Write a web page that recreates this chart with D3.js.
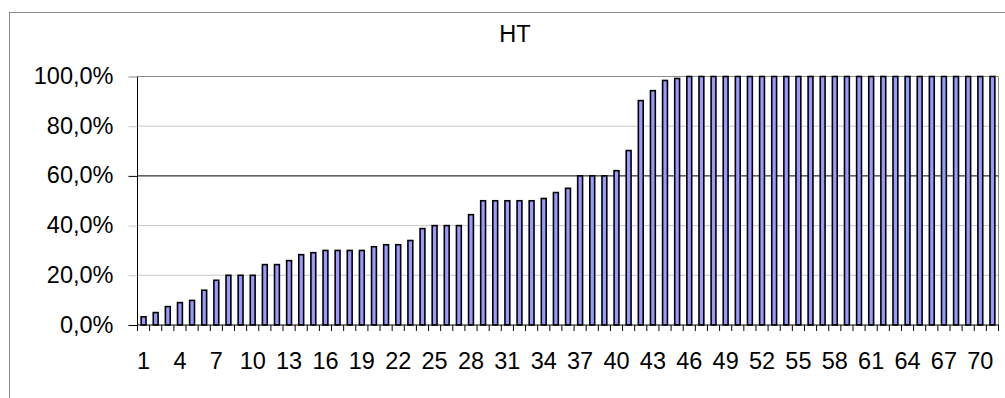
<!DOCTYPE html>
<html>
<head>
<meta charset="utf-8">
<script src="https://cdn.jsdelivr.net/npm/d3@7"></script>
<style>
  html, body { margin: 0; padding: 0; background: #fff; }
  svg { display: block; font-family: "Liberation Sans", Arial, sans-serif; }
</style>
</head>
<body>
<script>
// HT share per item, in percent (items 1..71)
const categories = d3.range(1, 72).map(String);
const values = [
  3.3, 5.0, 7.4, 9.0, 9.9, 14.0, 18.0, 20, 20, 20,
  24.3, 24.3, 25.9, 28.3, 29.1, 30, 30, 30, 30, 31.5,
  32.3, 32.3, 34.0, 38.8, 40, 40, 40, 44.4, 50, 50,
  50, 50, 50, 50.9, 53.3, 55, 60, 60, 60, 62.1,
  70.2, 90.3, 94.3, 98.4, 99.2, 100, 100, 100, 100, 100,
  100, 100, 100, 100, 100, 100, 100, 100, 100, 100,
  100, 100, 100, 100, 100, 100, 100, 100, 100, 100,
  100
];
const yTicks = [0, 20, 40, 60, 80, 100];
const xTickLabels = categories.filter((d, i) => i % 3 === 0);
const title = "HT";

const W = 1005, H = 398;
const plot = { left: 137.5, right: 998.5, top: 76.5, bottom: 325 };
const fontSize = 23.5;

const svg = d3.select("body").append("svg")
  .attr("width", W).attr("height", H);

// outer chart frame
svg.append("rect")
  .attr("x", 9.5).attr("y", 12.5)
  .attr("width", 1010).attr("height", 400)
  .attr("fill", "#fff").attr("stroke", "#8c8c8c").attr("stroke-width", 1);

const x = d3.scaleBand()
  .domain(categories)
  .range([plot.left, plot.right])
  .paddingInner(0.6)
  .paddingOuter(0.3);

const y = d3.scaleLinear()
  .domain([0, 100])
  .range([plot.bottom, plot.top]);

const fmt = v => d3.format(".1f")(v).replace(".", ",") + "%";

// horizontal gridlines
const gridColor = v => v === 60 ? "#000" : (v === 100 ? "#8c8c8c" : "#c8c8c8");
svg.append("g")
  .selectAll("line")
  .data(yTicks.filter(v => v > 0))
  .join("line")
  .attr("x1", plot.left).attr("x2", plot.right)
  .attr("y1", d => y(d)).attr("y2", d => y(d))
  .attr("stroke", gridColor).attr("stroke-width", 1);

// right border of plot area
svg.append("line")
  .attr("x1", plot.right).attr("x2", plot.right)
  .attr("y1", plot.top).attr("y2", plot.bottom)
  .attr("stroke", "#8c8c8c");

// bars
svg.append("g")
  .selectAll("rect")
  .data(values)
  .join("rect")
  .attr("x", (d, i) => x(categories[i]))
  .attr("y", d => y(d))
  .attr("width", x.bandwidth())
  .attr("height", d => y(0) - y(d))
  .attr("fill", "#9999ff")
  .attr("stroke", "#000")
  .attr("stroke-width", 1.6);

// y axis
const yAxis = d3.axisLeft(y)
  .tickValues(yTicks)
  .tickFormat(fmt)
  .tickSize(9)
  .tickPadding(15);
const gy = svg.append("g")
  .attr("transform", `translate(${plot.left},0)`)
  .call(yAxis);
gy.select(".domain").attr("stroke", "#000").attr("d", `M0,${plot.top}V${plot.bottom}`);
gy.selectAll(".tick line").attr("stroke", d => d === 0 ? "#000" : gridColor(d));
gy.selectAll(".tick text")
  .attr("font-size", fontSize)
  .attr("fill", "#000")
  .attr("dy", "0.3em")
  .style("font-family", "'Liberation Sans', Arial, sans-serif");

// x axis: ticks between categories, labels on every third category
const step = (plot.right - plot.left) / categories.length;
const gx = svg.append("g");
gx.append("line")
  .attr("x1", plot.left).attr("x2", plot.right)
  .attr("y1", plot.bottom).attr("y2", plot.bottom)
  .attr("stroke", "#000");
gx.selectAll("line.tick")
  .data(d3.range(0, categories.length + 1))
  .join("line")
  .attr("class", "tick")
  .attr("x1", i => plot.left + i * step)
  .attr("x2", i => plot.left + i * step)
  .attr("y1", plot.bottom).attr("y2", plot.bottom + 6)
  .attr("stroke", "#000");
gx.selectAll("text")
  .data(xTickLabels)
  .join("text")
  .attr("x", d => x(d) + x.bandwidth() / 2)
  .attr("y", 368.5)
  .attr("text-anchor", "middle")
  .attr("font-size", fontSize)
  .attr("fill", "#000")
  .text(d => d);

// title
svg.append("text")
  .attr("x", 515)
  .attr("y", 41.5)
  .attr("text-anchor", "middle")
  .attr("font-size", fontSize)
  .attr("fill", "#000")
  .text(title);
</script>
</body>
</html>
